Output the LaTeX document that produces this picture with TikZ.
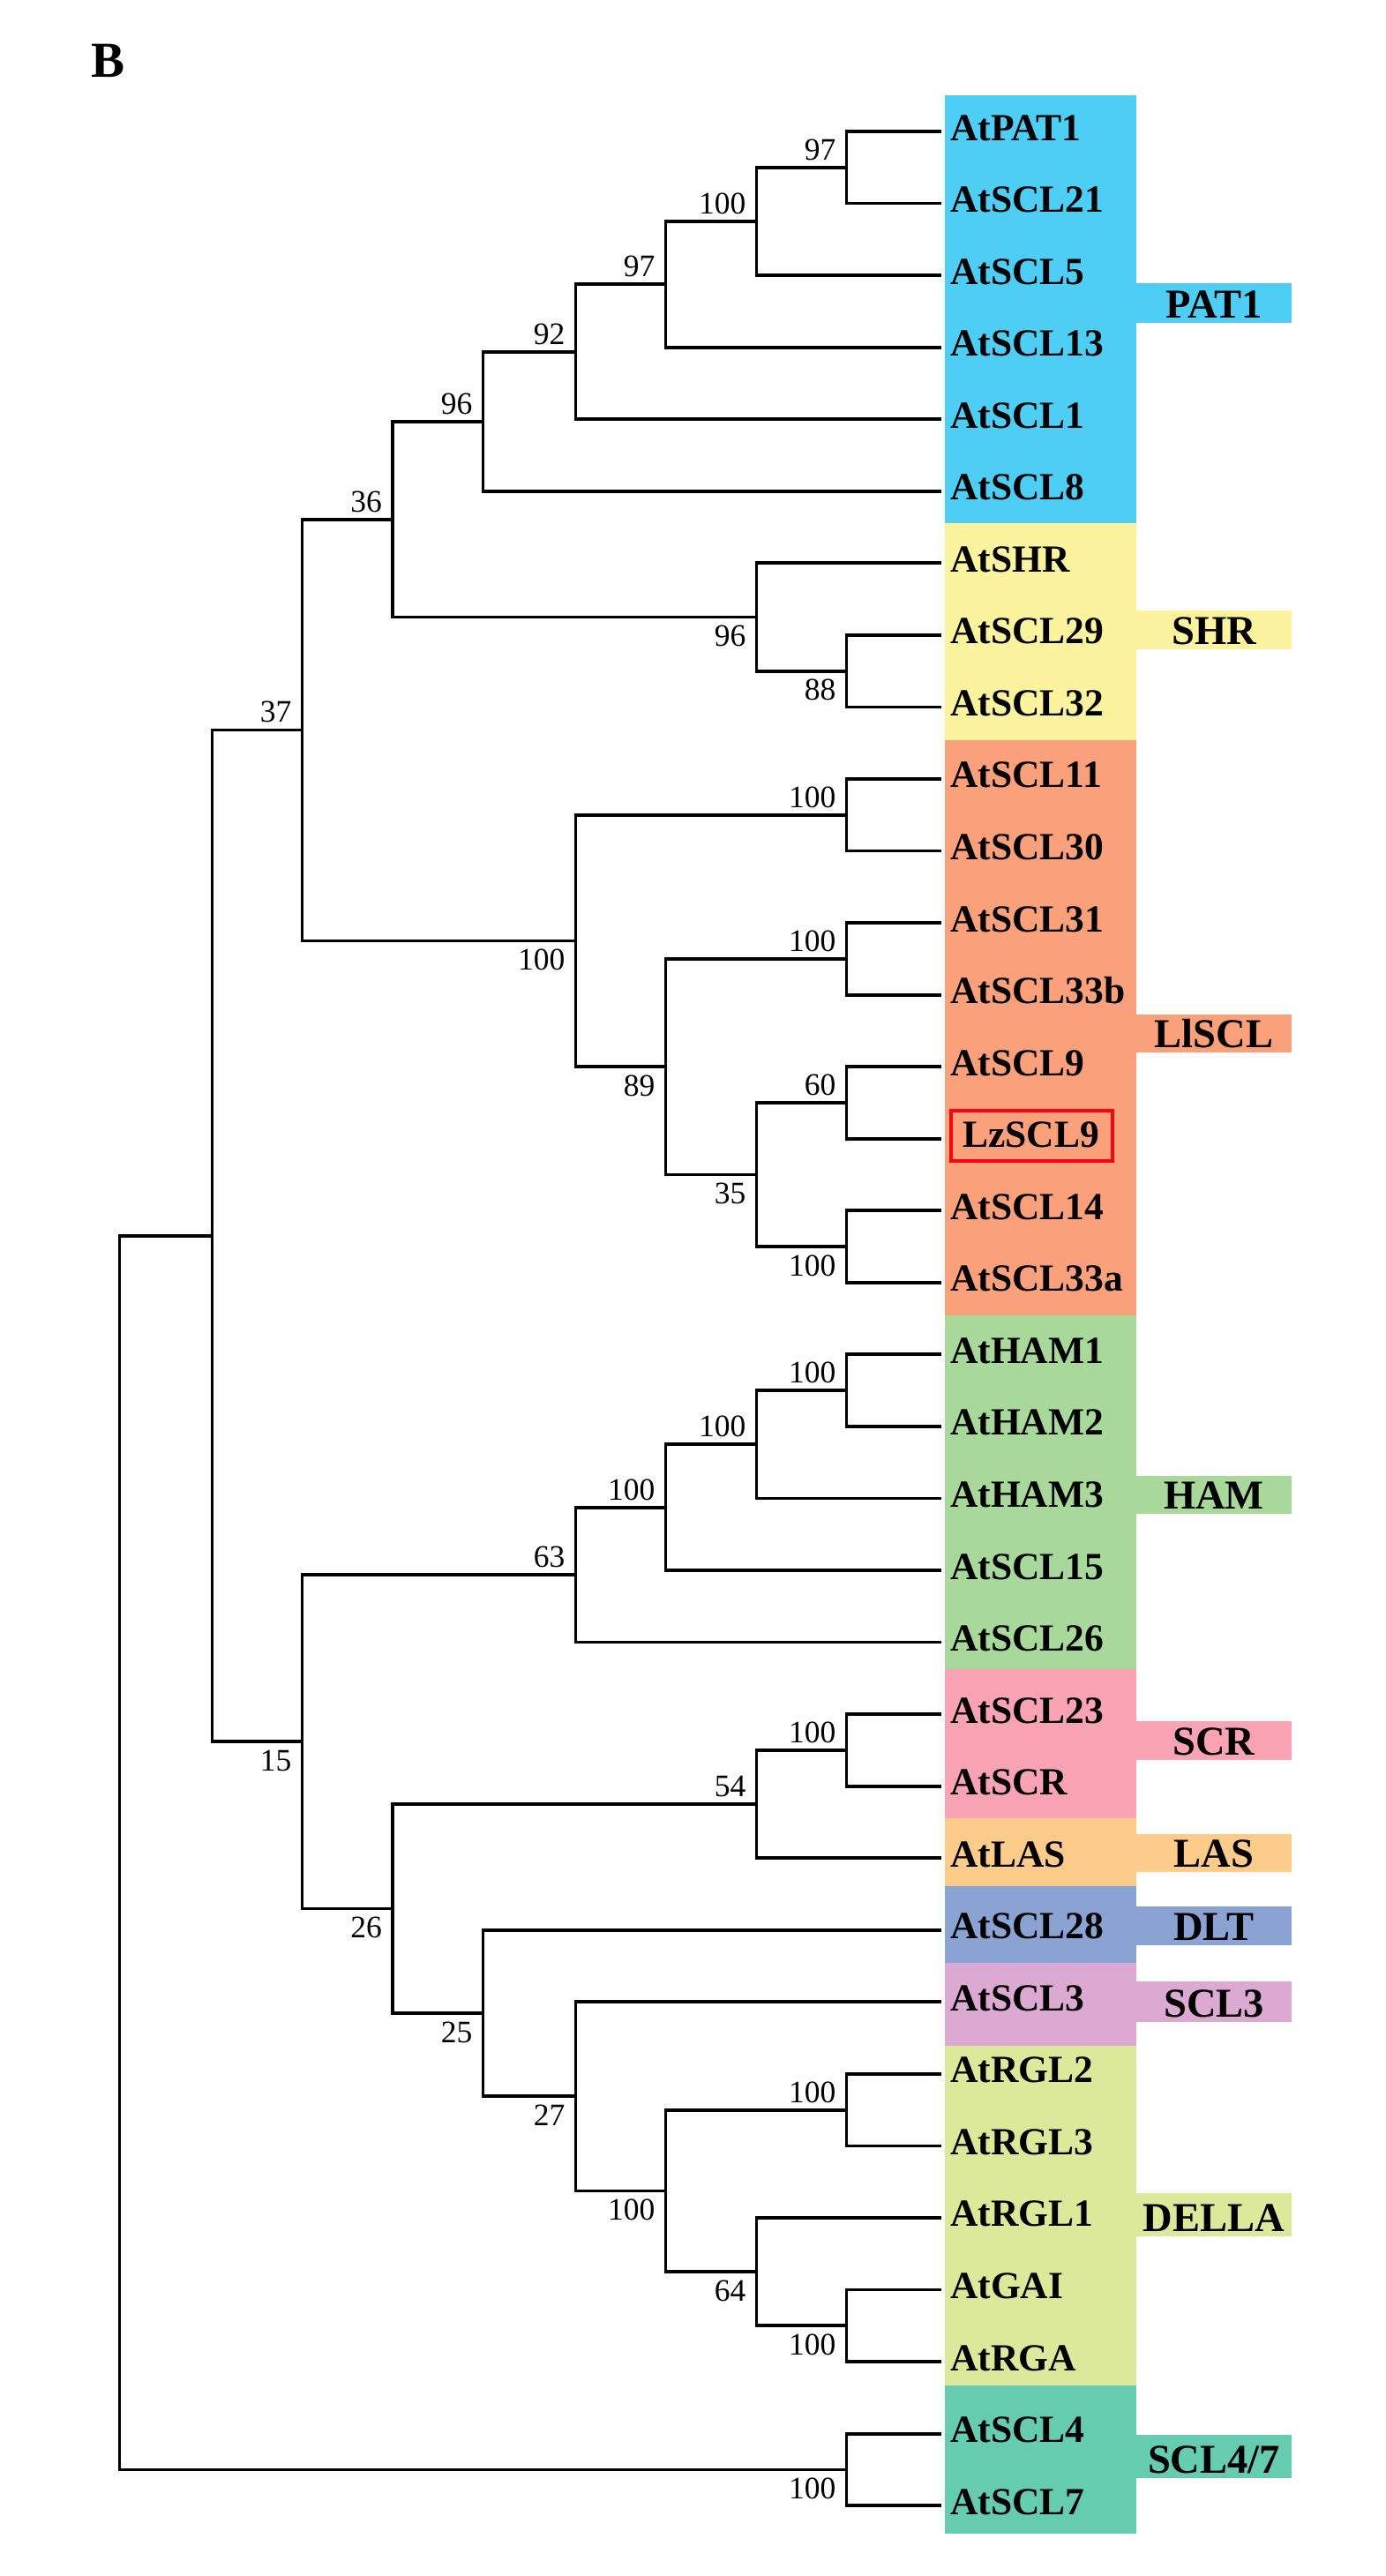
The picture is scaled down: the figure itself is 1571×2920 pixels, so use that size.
\documentclass[tikz,border=0pt]{standalone}
\usepackage{fontspec}
\setmainfont{Liberation Serif}
\usetikzlibrary{calc}
\newcommand\leaffont{\fontsize{43.5}{50}\selectfont\bfseries}
\newcommand\grpfont{\fontsize{46.5}{52}\selectfont\bfseries}
\newcommand\bsfont{\fontsize{35.5}{40}\selectfont}
\newcommand\panelfont{\fontsize{57}{60}\selectfont\bfseries}
\definecolor{cPAT}{RGB}{78,206,245}
\definecolor{cSHR}{RGB}{251,243,157}
\definecolor{cLL}{RGB}{250,160,122}
\definecolor{cHAM}{RGB}{169,217,154}
\definecolor{cSCR}{RGB}{249,163,181}
\definecolor{cLAS}{RGB}{253,204,138}
\definecolor{cDLT}{RGB}{139,163,211}
\definecolor{cSCL3}{RGB}{219,169,209}
\definecolor{cDEL}{RGB}{220,233,154}
\definecolor{cS47}{RGB}{102,204,176}
\definecolor{cRed}{RGB}{255,0,16}
\tikzset{
  leaf/.style={anchor=base west, inner sep=0pt, font=\leaffont},
  grp/.style={anchor=base, inner sep=0pt, font=\grpfont},
  bsa/.style={anchor=south east, inner sep=0pt, font=\bsfont},
  bsb/.style={anchor=north east, inner sep=0pt, font=\bsfont},
  br/.style={line width=3.8pt, line join=miter, black},
  hl/.style={draw=cRed, line width=4pt},
}
\begin{document}
\begin{tikzpicture}[x=1pt,y=-1pt]
\useasboundingbox (0,0) rectangle (1571,2920);
\fill[white] (0,0) rectangle (1571,2920);
% panel letter
\node[anchor=base west, inner sep=0pt, font=\panelfont] (panel) at (103,88) {B};
% colour bands
\fill[cPAT] (1071,108) rectangle (1288,593);
\fill[cPAT] (1287,321) rectangle (1464,366);
\fill[cSHR] (1071,593) rectangle (1288,839);
\fill[cSHR] (1287,692) rectangle (1464,736);
\fill[cLL] (1071,839) rectangle (1288,1491);
\fill[cLL] (1287,1150) rectangle (1464,1193);
\fill[cHAM] (1071,1491) rectangle (1288,1892);
\fill[cHAM] (1287,1673) rectangle (1464,1716);
\fill[cSCR] (1071,1892) rectangle (1288,2061);
\fill[cSCR] (1287,1951) rectangle (1464,1995);
\fill[cLAS] (1071,2061) rectangle (1288,2138);
\fill[cLAS] (1287,2079) rectangle (1464,2122);
\fill[cDLT] (1071,2138) rectangle (1288,2225);
\fill[cDLT] (1287,2161) rectangle (1464,2205);
\fill[cSCL3] (1071,2225) rectangle (1288,2319);
\fill[cSCL3] (1287,2246) rectangle (1464,2292);
\fill[cDEL] (1071,2319) rectangle (1288,2704);
\fill[cDEL] (1287,2486) rectangle (1464,2535);
\fill[cS47] (1071,2704) rectangle (1288,2872);
\fill[cS47] (1287,2760) rectangle (1464,2809);
% group labels
\node[grp] (gPAT) at (1376,360) {PAT1};
\node[grp] (gSHR) at (1376,730.5) {SHR};
\node[grp] (gLL) at (1376,1187.5) {LlSCL};
\node[grp] (gHAM) at (1376,1710.5) {HAM};
\node[grp] (gSCR) at (1376,1989.5) {SCR};
\node[grp] (gLAS) at (1376,2116.5) {LAS};
\node[grp] (gDLT) at (1376,2199.5) {DLT};
\node[grp] (gSCL3) at (1376,2286.5) {SCL3};
\node[grp] (gDEL) at (1376,2529) {DELLA};
\node[grp] (gS47) at (1376,2803.5) {SCL4/7};
% leaves
\foreach \t/\xo [count=\i from 0] in {AtPAT1/1077,AtSCL21/1077,AtSCL5/1077,AtSCL13/1077,AtSCL1/1077,AtSCL8/1077,AtSHR/1077,AtSCL29/1077,AtSCL32/1077,AtSCL11/1077,AtSCL30/1077,AtSCL31/1077,AtSCL33b/1077,AtSCL9/1077,LzSCL9/1091,AtSCL14/1077,AtSCL33a/1077,AtHAM1/1077,AtHAM2/1077,AtHAM3/1077,AtSCL15/1077,AtSCL26/1077,AtSCL23/1077,AtSCR/1077,AtLAS/1077,AtSCL28/1077,AtSCL3/1077,AtRGL2/1077,AtRGL3/1077,AtRGL1/1077,AtGAI/1077,AtRGA/1077,AtSCL4/1077,AtSCL7/1077}{
  \coordinate (e\i) at (1067,{149+81.55*\i});
  \node[leaf] (t\i) at (\xo,{159+81.55*\i}) {\t};
}
% highlight box
\draw[hl] (1078,1258.7) rectangle (1261,1316);
% internal nodes
\coordinate (A) at (959.5,189.8);
\coordinate (B) at (857.5,250.9);
\coordinate (C) at (754.5,322.3);
\coordinate (D) at (652.5,398.7);
\coordinate (E) at (547.5,477.7);
\coordinate (F) at (959.5,760.6);
\coordinate (G) at (857.5,699.5);
\coordinate (H) at (445,588.6);
\coordinate (I) at (959.5,923.7);
\coordinate (J) at (959.5,1086.8);
\coordinate (K) at (959.5,1249.9);
\coordinate (L) at (959.5,1413.0);
\coordinate (M) at (857.5,1331.5);
\coordinate (N) at (754.5,1209.2);
\coordinate (O) at (652.5,1066.4);
\coordinate (P) at (342.5,827.5);
\coordinate (Q) at (959.5,1576.1);
\coordinate (R) at (857.5,1637.3);
\coordinate (S) at (754.5,1708.6);
\coordinate (T) at (652.5,1785.1);
\coordinate (U) at (959.5,1983.9);
\coordinate (V) at (857.5,2045.0);
\coordinate (W) at (959.5,2391.6);
\coordinate (X) at (959.5,2636.3);
\coordinate (Y) at (857.5,2575.1);
\coordinate (Z) at (754.5,2483.4);
\coordinate (AA) at (652.5,2376.3);
\coordinate (AB) at (547.5,2282.0);
\coordinate (AC) at (445,2163.5);
\coordinate (AD) at (342.5,1974.3);
\coordinate (AE) at (240.5,1400.9);
\coordinate (AF) at (959.5,2799.4);
\coordinate (root) at (135.5,2100.2);
% branches
\foreach \n/\a/\b in {A/e0/e1, B/A/e2, C/B/e3, D/C/e4, E/D/e5, F/e7/e8, G/e6/F, H/E/G,
  I/e9/e10, J/e11/e12, K/e13/e14, L/e15/e16, M/K/L, N/J/M, O/I/N, P/H/O,
  Q/e17/e18, R/Q/e19, S/R/e20, T/S/e21, U/e22/e23, V/U/e24,
  W/e27/e28, X/e30/e31, Y/e29/X, Z/W/Y, AA/e26/Z, AB/e25/AA, AC/V/AB, AD/T/AC,
  AE/P/AD, AF/e32/e33, root/AE/AF}{
  \draw[br] (\a) -| (\n) |- (\b);
}
% bootstrap values above
\foreach \n/\v in {A/97, B/100, C/97, D/92, E/96, H/36, I/100, J/100, K/60, P/37,
  Q/100, R/100, S/100, T/63, U/100, V/54, W/100}{
  \node[bsa] (ba\n) at ($(\n)+(-12,-8)$) {\v};
}
% bootstrap values below
\foreach \n/\v in {F/88, G/96, L/100, M/35, N/89, O/100, X/100, Y/64, Z/100,
  AA/27, AB/25, AC/26, AD/15, AF/100}{
  \node[bsb] (bb\n) at ($(\n)+(-12,9.5)$) {\v};
}
\end{tikzpicture}
\end{document}
